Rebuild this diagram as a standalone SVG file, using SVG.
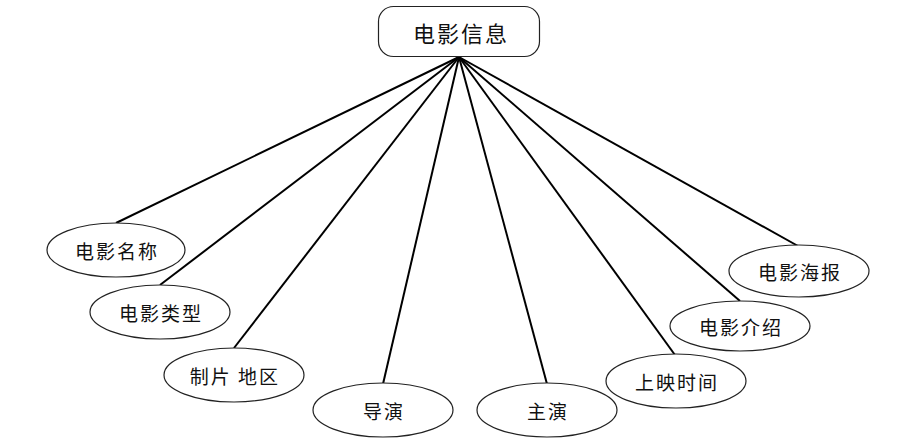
<svg xmlns="http://www.w3.org/2000/svg" width="916" height="448" viewBox="0 0 916 448">
<style>
.n{fill:#fff;stroke:#222;stroke-width:1.2}
.t{font-family:"Noto Sans CJK SC","Noto Sans CJK JP",sans-serif;font-size:19px;fill:#111;text-anchor:middle;dominant-baseline:central;letter-spacing:2px}
.top{font-size:22px}
.c{stroke:#000;stroke-width:2;fill:none}
</style>
<rect width="916" height="448" fill="#fff"/>
<g id="connectors">
<line class="c" x1="459" y1="57" x2="116" y2="223"/>
<line class="c" x1="459" y1="57" x2="160" y2="285"/>
<line class="c" x1="459" y1="57" x2="234" y2="348"/>
<line class="c" x1="459" y1="57" x2="383" y2="384"/>
<line class="c" x1="459" y1="57" x2="547" y2="384"/>
<line class="c" x1="459" y1="57" x2="675" y2="355"/>
<line class="c" x1="459" y1="57" x2="740" y2="301"/>
<line class="c" x1="459" y1="57" x2="798" y2="246"/>
</g>
<g id="root"><rect class="n" x="378.500" y="6.500" width="161" height="50" rx="15"/><text class="t top" x="461" y="32">电影信息</text></g>
<g id="n1"><ellipse class="n" cx="116" cy="250" rx="69" ry="27"/><text class="t" x="117" y="250">电影名称</text></g>
<g id="n2"><ellipse class="n" cx="160" cy="312" rx="70" ry="27"/><text class="t" x="161" y="312">电影类型</text></g>
<g id="n3"><ellipse class="n" cx="234" cy="375" rx="70" ry="27"/><text class="t" x="235" y="375" xml:space="preserve">制片 地区</text></g>
<g id="n4"><ellipse class="n" cx="383" cy="410" rx="70" ry="27"/><text class="t" x="384" y="410">导演</text></g>
<g id="n5"><ellipse class="n" cx="547" cy="410" rx="70" ry="27"/><text class="t" x="548" y="410">主演</text></g>
<g id="n6"><ellipse class="n" cx="676" cy="381" rx="70" ry="27"/><text class="t" x="677" y="381">上映时间</text></g>
<g id="n7"><ellipse class="n" cx="740" cy="326" rx="70" ry="25"/><text class="t" x="741" y="326">电影介绍</text></g>
<g id="n8"><ellipse class="n" cx="799" cy="271" rx="70" ry="26"/><text class="t" x="800" y="271">电影海报</text></g>
</svg>
